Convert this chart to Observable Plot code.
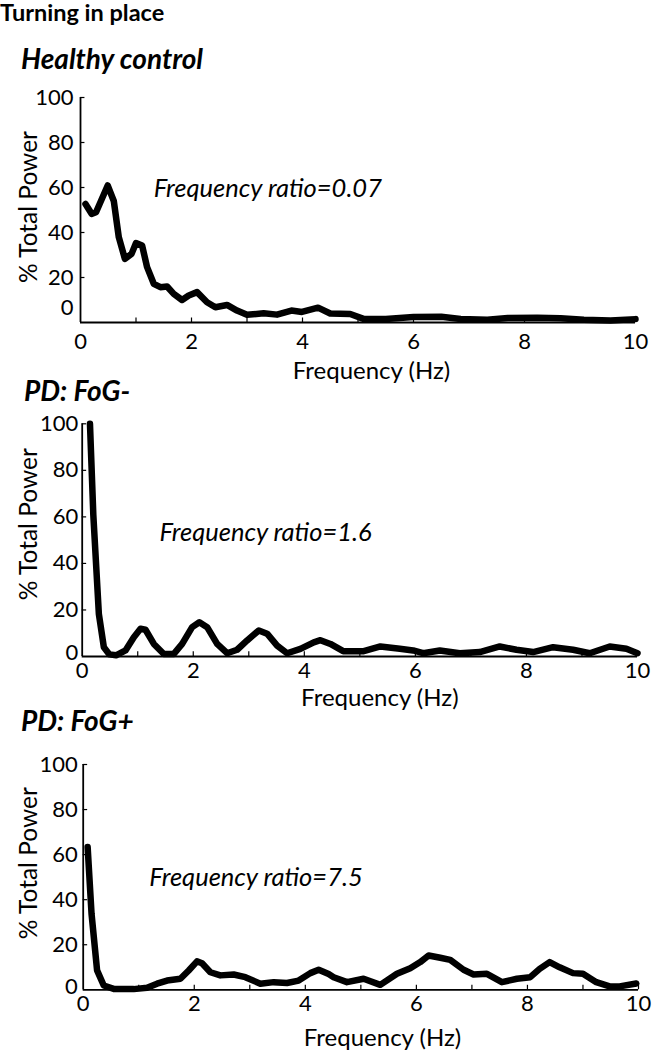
<!DOCTYPE html>
<html>
<head>
<meta charset="utf-8">
<script src="https://cdn.jsdelivr.net/npm/d3@7"></script>
<script src="https://cdn.jsdelivr.net/npm/@observablehq/plot@0.6"></script>
<style>
  html, body { margin: 0; padding: 0; background: #fff; }
  body { width: 652px; height: 1050px; position: relative; overflow: hidden; font-family: Lato, "Open Sans", sans-serif; color: #000; }
  .t { position: absolute; line-height: 1.2; white-space: nowrap; }
  .title { font-weight: bold; font-size: 23.5px; left: 0px; top: 0px; }
  .sub { font-weight: bold; font-style: italic; font-size: 28px; }
  .panel { position: absolute; left: 0; }
</style>
</head>
<body>
<div class="t title" style="top:-2px">Turning in place</div>
<div class="t sub" style="left:21px; top:42px;">Healthy control</div>
<div class="t sub" style="left:24px; top:374px;">PD: FoG-</div>
<div class="t sub" style="left:21px; top:704px;">PD: FoG+</div>
<div id="p1" class="panel" style="top:80px"></div>
<div id="p2" class="panel" style="top:405px"></div>
<div id="p3" class="panel" style="top:745px"></div>
<script>
// ---- data ----
const hcFreq  = [0.09,0.2,0.28,0.49,0.6,0.69,0.8,0.92,1.0,1.11,1.2,1.32,1.44,1.56,1.68,1.83,1.95,2.1,2.28,2.43,2.64,2.82,3.0,3.3,3.54,3.8,3.99,4.28,4.5,4.86,5.1,5.5,6.0,6.5,6.85,7.33,7.7,8.23,8.65,9.07,9.55,10.0];
const hcPower = [52.7,48.3,49,60.9,54,37.9,28.3,30.5,35.3,34.2,24.6,17.2,15.7,16,12.7,10,12,13.5,9,6.8,7.8,5.3,3.4,4.1,3.5,5.3,4.7,6.6,4.0,3.8,1.6,1.6,2.4,2.6,1.6,1.2,2.0,2.1,1.9,1.2,0.9,1.5];

const fogMinusFreq  = [0.14,0.2,0.3,0.39,0.49,0.61,0.78,0.93,1.05,1.14,1.29,1.47,1.65,1.8,1.98,2.11,2.25,2.43,2.61,2.79,2.97,3.18,3.33,3.51,3.69,3.93,4.17,4.29,4.47,4.7,5.07,5.37,5.72,5.96,6.14,6.44,6.8,7.16,7.52,7.82,8.12,8.48,8.84,9.14,9.5,9.8,10.0];
const fogMinusPower = [100,61,18.3,4,0.9,0.5,2.6,8.3,11.9,11.5,5.4,1.1,1.1,5.4,12.6,14.7,12.6,5.4,1.4,2.9,6.9,11.2,9.8,4.7,1.4,3.3,6.1,7.0,5.4,2.3,2.3,4.3,3.3,2.6,1.4,2.6,1.4,1.9,4.3,2.9,1.9,4.0,2.9,1.4,4.3,3.3,1.4];

const fogPlusFreq  = [0.08,0.15,0.25,0.37,0.55,0.91,1.15,1.33,1.51,1.75,1.9,2.05,2.14,2.29,2.47,2.71,2.92,3.19,3.43,3.67,3.88,4.09,4.24,4.42,4.51,4.75,5.05,5.35,5.65,5.89,6.07,6.22,6.43,6.61,6.85,7.03,7.27,7.54,7.81,8.05,8.22,8.4,8.58,8.82,9.0,9.24,9.48,9.66,9.96];
const fogPlusPower = [63.4,33.8,8.6,1.9,0.4,0.3,0.9,2.7,4.1,4.9,8.6,12.6,11.8,7.8,6.4,6.8,5.6,2.7,3.4,3.0,4.1,7.4,8.9,7.0,5.6,3.4,4.9,2.2,7.1,9.6,12.3,15.2,14.2,13.3,8.9,6.8,7.1,3.4,4.9,5.6,9.3,12.3,10,7.4,7.1,3.4,1.5,1.5,2.8];

const ratioLabels = ["Frequency ratio=0.07", "Frequency ratio=1.6", "Frequency ratio=7.5"];
const xTickLabels = [0, 2, 4, 6, 8, 10];
const xTickMarks  = [1, 2, 3, 4, 5, 6, 7, 8, 9, 10];
const yTickLabels = [20, 40, 60, 80, 100];
const xAxisLabel = "Frequency (Hz)";
const yAxisLabel = "% Total Power";

// ---- layout per panel ----
const panels = [
  {el: "p1", freq: hcFreq, power: hcPower, ratio: ratioLabels[0], ratioAt: [1.32, 59.6],
   height: 310, mt: 17, mb: 68, ml: 80, mr: 17, xPad: 11, yPad: 7, zeroDy: -15, xlabDy: 56.6, xlabDx: 13.5, ylabDy: -3},
  {el: "p2", freq: fogMinusFreq, power: fogMinusPower, ratio: ratioLabels[1], ratioAt: [1.39, 53.2],
   height: 305, mt: 18.3, mb: 54, ml: 81.7, mr: 15, xPad: 5.5, yPad: 4, zeroDy: -4, xlabDy: 49, xlabDx: 20, ylabDy: -16},
  {el: "p3", freq: fogPlusFreq, power: fogPlusPower, ratio: ratioLabels[2], ratioAt: [1.19, 49.9],
   height: 305, mt: 19, mb: 60.7, ml: 82.7, mr: 14, xPad: 5.5, yPad: 5.5, zeroDy: -3, xlabDy: 56, xlabDx: 21.7, ylabDy: -14}
];

for (const p of panels) {
  const data = p.freq.map((f, i) => ({f, v: p.power[i]}));
  const chart = Plot.plot({
    width: 652,
    height: p.height,
    marginTop: p.mt, marginBottom: p.mb, marginLeft: p.ml, marginRight: p.mr,
    x: {domain: [0, 10]},
    y: {domain: [0, 100]},
    style: {fontFamily: "Lato, 'Open Sans', sans-serif", fontSize: "22px", color: "#000", background: "transparent", overflow: "visible"},
    marks: [
      Plot.ruleX([0], {y1: 0, y2: 100, stroke: "#000", strokeWidth: 1.8}),
      Plot.ruleY([0], {x1: 0, x2: 10, stroke: "#000", strokeWidth: 1.8}),
      Plot.ruleX(xTickMarks, {x: d => d, y1: 0, y2: 2, stroke: "#000", strokeWidth: 1.2}),
      Plot.ruleY(yTickLabels, {y: d => d, x1: 0, x2: 0.08, stroke: "#000", strokeWidth: 1.2}),
      Plot.axisX({ticks: xTickLabels, tickSize: 0, tickPadding: p.xPad, label: null, fontSize: 22}),
      Plot.axisY({ticks: yTickLabels, tickSize: 0, tickPadding: p.yPad, label: null, fontSize: 22}),
      Plot.axisY({ticks: [0], tickSize: 0, tickPadding: p.yPad, label: null, fontSize: 22, dy: p.zeroDy}),
      Plot.line(data, {x: "f", y: "v", stroke: "#000", strokeWidth: 6.5, strokeLinejoin: "round", clip: false}),
      Plot.text([p.ratio], {x: () => p.ratioAt[0], y: () => p.ratioAt[1], text: d => d, textAnchor: "start", fontStyle: "italic", fontSize: 25.5}),
      Plot.text([xAxisLabel], {frameAnchor: "bottom", text: d => d, textAnchor: "middle", lineAnchor: "bottom", dy: p.xlabDy, dx: p.xlabDx, fontSize: 24}),
      Plot.text([yAxisLabel], {frameAnchor: "left", text: d => d, textAnchor: "middle", lineAnchor: "middle", rotate: -90, dx: -(p.ml - 29), dy: p.ylabDy, fontSize: 24.5})
    ]
  });
  document.getElementById(p.el).appendChild(chart);
}
</script>
</body>
</html>
